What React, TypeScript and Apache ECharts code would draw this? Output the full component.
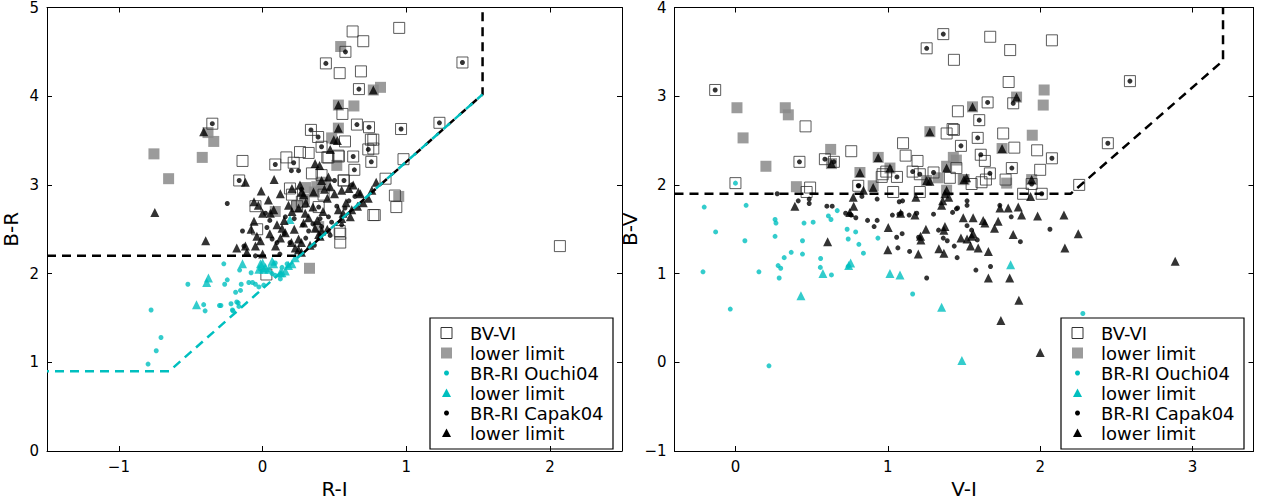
import React, { useEffect, useRef } from "react";
import * as echarts from "echarts";

type P = [number, number];

// ---------- Left panel (R-I vs B-R) ----------
const L_BVVI: P[] = [
  [0.44, 4.37], [0.536, 4.26], [-0.35, 3.69], [-0.14, 3.27], [-0.163, 3.05], [0.088, 3.23], [0.165, 3.31],
  [0.26, 3.37], [0.32, 3.36], [0.216, 3.25], [0.336, 3.62], [0.386, 3.54], [0.41, 3.43], [0.45, 3.31],
  [0.626, 4.73], [0.7, 4.62], [0.95, 4.77], [0.576, 4.5], [1.39, 4.38], [0.684, 4.28], [0.67, 4.08],
  [0.555, 3.8], [0.656, 3.68], [0.74, 3.65], [0.963, 3.63], [1.23, 3.7], [0.753, 3.51], [0.573, 3.49],
  [0.735, 3.4], [0.77, 3.41], [0.458, 3.31], [0.53, 3.32], [0.63, 3.32], [0.756, 3.26], [0.98, 3.29],
  [0.638, 3.17], [0.566, 3.05], [0.855, 3.07], [0.92, 2.88], [0.93, 2.75], [0.77, 2.66], [0.39, 2.75],
  [0.536, 2.48], [2.068, 2.31], [0.54, 2.45], [0.54, 2.35], [0.026, 1.99], [0.343, 3.13], [0.41, 3.11],
  [0.19, 2.96], [-0.05, 2.76], [0.204, 2.89], [0.24, 2.76], [-0.038, 2.5], [0.78, 2.66], [0.562, 3.05],
  [0.424, 2.89], [0.273, 2.81], [0.527, 3.33], [0.77, 3.51],
];
const L_BVVI_LIM: P[] = [
  [0.543, 4.56], [-0.38, 3.59], [-0.34, 3.49], [-0.756, 3.35], [-0.42, 3.31], [-0.654, 3.07], [0.527, 3.9],
  [0.527, 3.64], [0.516, 3.22], [0.77, 4.07], [0.82, 4.1], [0.635, 3.89], [0.947, 2.87], [0.326, 2.06],
  [0.48, 3.53], [0.41, 3.03], [0.377, 2.98], [0.435, 3.0], [0.39, 2.53], [0.24, 2.76], [0.088, 2.7],
  [0.3, 2.97], [0.36, 2.92], [0.29, 2.84],
];
const L_OUCHI: P[] = [
  [-0.27, 2.11], [-0.52, 1.88], [-0.246, 1.93], [-0.264, 1.88], [-0.776, 1.59], [-0.41, 1.65], [-0.4, 1.58],
  [-0.3, 1.64], [-0.22, 1.66], [-0.206, 1.58], [-0.17, 1.67], [-0.188, 1.79], [-0.154, 1.81], [-0.149, 1.88],
  [-0.16, 2.04], [-0.707, 1.28], [-0.74, 1.13], [-0.797, 0.98], [-0.096, 1.9], [-0.05, 1.88], [-0.026, 1.85],
  [-0.08, 2.01], [-0.015, 2.05], [-0.21, 1.59], [-0.18, 1.68], [-0.165, 1.63], [-0.29, 1.64], [0.008, 1.87],
  [-0.07, 1.9], [0.088, 2.12], [0.135, 2.07], [0.17, 2.11], [0.088, 1.98], [0.123, 1.94], [0.066, 2.0],
];
const L_OUCHI_LIM: P[] = [
  [-0.14, 2.11], [-0.377, 1.95], [-0.389, 1.9], [-0.46, 1.65], [-0.015, 2.11], [0.008, 2.05], [-0.026, 2.05],
  [0.066, 2.14], [0.043, 2.05], [0.18, 2.09], [0.227, 2.18], [0.123, 2.01], [0.0, 2.12], [0.02, 2.07],
  [0.077, 2.11], [0.135, 2.01], [0.158, 2.03], [0.204, 2.11], [0.19, 2.61],
];
const L_CAPAK: P[] = [
  [0.44, 4.37], [-0.35, 3.69], [-0.163, 3.05], [0.088, 3.23], [0.216, 3.25], [0.336, 3.62], [0.386, 3.54],
  [0.41, 3.43], [0.576, 4.5], [1.39, 4.38], [0.67, 4.08], [0.656, 3.68], [0.74, 3.65], [0.963, 3.63],
  [1.23, 3.7], [0.735, 3.4], [0.63, 3.32], [0.756, 3.26], [0.638, 3.17], [0.566, 3.05], [0.39, 2.75],
  [-0.246, 2.79], [-0.14, 2.48], [0.2, 3.16], [0.25, 3.16], [-0.13, 2.31], [0.02, 2.68], [0.066, 2.39],
  [0.1, 2.35], [0.19, 2.35], [0.32, 2.48], [0.458, 2.64], [0.516, 2.76], [0.41, 2.53], [0.158, 2.64],
  [0.573, 2.74], [0.642, 2.87], [0.62, 3.0], [0.5, 3.05], [0.27, 2.95], [0.35, 2.56], [0.03, 2.52],
  [0.12, 2.22], [0.36, 2.32], [0.47, 2.43], [0.05, 2.6], [0.15, 2.45], [0.28, 2.55], [0.4, 2.62],
  [0.48, 2.58], [0.55, 2.55], [0.3, 2.4], [-0.05, 2.2], [0.22, 2.62], [0.6, 2.82],
];
const L_CAPAK_LIM: P[] = [
  [-0.41, 3.6], [-0.12, 3.03], [-0.75, 2.69], [0.08, 3.06], [-0.01, 2.93], [0.527, 3.9], [0.527, 3.64],
  [0.495, 3.51], [0.52, 3.5], [0.47, 3.4], [0.77, 4.07], [0.365, 3.24], [0.396, 3.22], [0.123, 2.9],
  [0.26, 3.0], [0.27, 2.92], [0.285, 2.89], [0.354, 2.92], [0.41, 3.05], [0.458, 3.09], [0.47, 2.98],
  [0.204, 2.96], [-0.06, 2.81], [-0.03, 2.77], [0.04, 2.83], [0.077, 2.72], [0.054, 2.68], [-0.06, 2.59],
  [0.0, 2.68], [0.18, 2.77], [0.204, 2.7], [0.25, 2.74], [0.296, 2.68], [0.32, 2.63], [0.285, 2.57],
  [0.135, 2.51], [0.158, 2.46], [0.124, 2.4], [0.25, 2.39], [0.27, 2.35], [0.227, 2.29], [0.365, 2.51],
  [0.41, 2.48], [0.39, 2.44], [0.527, 2.72], [0.56, 2.68], [0.61, 2.64], [0.55, 2.94], [0.6, 2.96],
  [0.63, 3.0], [0.666, 2.92], [0.76, 2.94], [0.79, 3.03], [0.735, 2.85], [-0.04, 2.42], [-0.015, 2.37],
  [-0.05, 2.31], [-0.18, 2.29], [-0.11, 2.24], [0.0, 2.22], [0.09, 2.31], [0.25, 2.27], [0.27, 2.24],
  [-0.396, 2.37], [-0.12, 2.31], [0.7, 2.8], [0.66, 2.76], [0.45, 2.5], [0.4, 2.42], [0.33, 2.32],
  [0.55, 2.62], [0.62, 2.72], [0.15, 2.6], [0.1, 2.55], [0.22, 2.5], [0.3, 2.8], [0.35, 2.75],
  [0.42, 2.7], [0.45, 2.85], [0.5, 2.9], [0.38, 2.6], [0.2, 2.35], [0.05, 2.45], [-0.08, 2.5],
  [0.58, 2.8], [0.68, 2.9], [0.43, 2.95],
];
const L_CUT_BLACK: P[] = [[-1.5, 2.2], [0.26, 2.2], [1.53, 4.02], [1.53, 5]];
const L_CUT_CYAN: P[] = [[-1.5, 0.9], [-0.65, 0.9], [1.53, 4.02]];

// ---------- Right panel (V-I vs B-V) ----------
const R_BVVI: P[] = [
  [-0.133, 3.07], [0.0, 2.02], [0.46, 2.66], [0.467, 1.92], [0.49, 1.97], [0.42, 2.26], [0.587, 2.29],
  [0.646, 2.26], [0.76, 2.38], [1.364, 3.7], [1.255, 3.54], [1.434, 3.41], [1.46, 2.83], [1.386, 2.58],
  [1.425, 2.63], [1.48, 2.44], [1.1, 2.47], [1.117, 2.33], [1.195, 2.27], [1.06, 2.09], [0.806, 1.99],
  [0.96, 2.09], [1.21, 2.12], [1.163, 2.15], [1.3, 2.14], [1.035, 1.92], [1.21, 1.92], [1.672, 3.67],
  [2.077, 3.63], [1.803, 3.52], [1.793, 3.16], [1.757, 2.58], [1.83, 2.42], [1.98, 2.39], [2.0, 2.17],
  [1.773, 2.06], [1.637, 2.27], [2.256, 2.0], [1.888, 1.9], [2.589, 3.17], [2.444, 2.47], [2.077, 2.3],
  [1.655, 2.93], [1.823, 2.92], [1.6, 2.73], [1.59, 2.53], [1.61, 2.34], [1.67, 2.13], [1.814, 2.19],
  [2.01, 1.9], [1.944, 2.01], [1.434, 2.62], [0.966, 2.12], [0.99, 2.15], [1.45, 2.19], [1.644, 2.06],
  [1.407, 2.08], [1.55, 2.01], [1.615, 2.03],
];
const R_BVVI_LIM: P[] = [
  [0.01, 2.87], [0.327, 2.87], [0.347, 2.79], [0.05, 2.53], [0.2, 2.21], [0.4, 1.98], [0.625, 2.4],
  [1.276, 2.6], [0.937, 2.31], [0.817, 2.14], [1.014, 2.19], [1.43, 2.31], [1.386, 1.94], [2.026, 3.07],
  [2.02, 2.9], [1.948, 2.56], [1.78, 2.02], [1.845, 2.99], [1.556, 2.88], [1.75, 2.41], [1.944, 2.06],
  [1.5, 2.06], [0.63, 2.24], [0.904, 1.99], [1.386, 2.21], [1.255, 2.05], [1.495, 2.06], [1.33, 2.08],
  [1.45, 2.28],
];
const R_OUCHI: P[] = [
  [-0.205, 1.75], [0.07, 1.77], [-0.13, 1.47], [0.062, 1.37], [0.26, 1.61], [0.266, 1.57], [0.26, 1.42],
  [0.45, 1.57], [0.51, 1.58], [0.61, 1.65], [0.627, 1.61], [0.668, 1.71], [0.733, 1.5], [0.789, 1.47],
  [0.44, 1.37], [0.44, 1.22], [0.366, 1.24], [0.32, 1.18], [0.28, 1.09], [0.297, 1.06], [0.287, 0.95],
  [0.154, 1.02], [-0.213, 1.02], [-0.034, 0.6], [0.22, -0.04], [0.559, 1.17], [0.557, 1.07], [0.63, 0.985],
  [0.74, 1.39], [0.81, 1.33], [0.84, 1.23], [0.74, 1.08], [0.935, 1.4], [1.163, 0.77], [0.0, 2.02],
  [2.28, 0.55],
];
const R_OUCHI_LIM: P[] = [
  [0.574, 1.0], [0.756, 1.12], [0.743, 1.09], [0.43, 0.75], [1.014, 1.0], [1.08, 0.985], [1.353, 0.62],
  [1.486, 0.02], [1.806, 1.1],
];
const R_CAPAK: P[] = [
  [-0.133, 3.07], [0.42, 2.26], [0.587, 2.29], [0.646, 2.26], [1.364, 3.7], [1.255, 3.54], [1.48, 2.44],
  [1.06, 2.09], [0.806, 1.99], [1.21, 2.12], [1.163, 2.15], [1.3, 2.14], [2.589, 3.17], [2.444, 2.47],
  [2.077, 2.3], [1.655, 2.93], [1.823, 2.92], [1.6, 2.73], [1.59, 2.53], [1.61, 2.34], [1.67, 2.13],
  [1.814, 2.19], [2.01, 1.9], [1.944, 2.01], [0.274, 1.9], [0.412, 1.82], [0.484, 1.84], [0.484, 1.79],
  [0.6, 1.76], [0.635, 1.76], [0.723, 1.68], [0.75, 1.67], [0.76, 1.66], [0.79, 1.63], [0.867, 1.6],
  [0.93, 1.6], [0.91, 1.53], [0.81, 1.99], [0.83, 1.87], [0.93, 1.84], [1.03, 1.66], [1.073, 1.67],
  [1.088, 1.68], [1.058, 1.41], [1.094, 1.45], [1.066, 1.29], [1.143, 1.25], [1.14, 1.66], [1.19, 1.68],
  [1.255, 0.95], [1.202, 1.41], [1.3, 1.67], [1.333, 1.49], [1.364, 1.4], [1.39, 1.37], [1.436, 1.31],
  [1.455, 1.18], [1.425, 1.69], [1.458, 1.74], [1.52, 1.54], [1.52, 1.82], [1.52, 1.77], [1.45, 1.73],
  [1.55, 1.49], [1.578, 1.04], [1.674, 1.08], [1.81, 1.64], [1.87, 1.36], [2.064, 1.5], [1.587, 1.38],
  [1.735, 1.77], [1.075, 1.81], [1.097, 1.82],
];
const R_CAPAK_LIM: P[] = [
  [0.63, 2.24], [1.276, 2.6], [0.937, 2.31], [0.817, 2.14], [1.014, 2.19], [0.84, 1.94], [0.904, 1.97],
  [1.255, 2.05], [1.276, 2.04], [1.386, 2.19], [1.5, 2.06], [1.386, 1.94], [1.845, 2.99], [1.556, 2.88],
  [1.75, 2.41], [1.944, 2.06], [1.937, 1.87], [1.517, 2.08], [0.39, 1.76], [0.776, 1.76], [0.773, 1.86],
  [0.605, 1.36], [1.003, 1.52], [1.0, 1.27], [1.084, 1.68], [1.178, 1.66], [1.184, 1.86], [1.25, 1.5],
  [1.2, 1.22], [1.215, 1.42], [1.217, 1.38], [1.335, 1.28], [1.368, 1.23], [1.375, 1.53], [1.368, 1.49],
  [1.48, 1.4], [1.52, 1.39], [1.495, 1.63], [1.56, 1.63], [1.36, 1.82], [1.375, 1.9], [1.353, 1.77],
  [1.4, 1.86], [1.736, 1.74], [1.79, 1.74], [1.856, 1.75], [1.626, 1.6], [1.637, 1.57], [1.724, 1.59],
  [1.7, 1.51], [1.878, 1.66], [1.983, 1.65], [2.156, 1.66], [2.25, 1.45], [1.543, 1.31], [1.593, 1.29],
  [1.66, 1.25], [1.823, 1.44], [2.162, 1.29], [1.66, 0.95], [1.8, 0.95], [1.86, 0.7], [1.742, 0.47],
  [2.0, 0.11], [2.886, 1.14], [1.55, 1.42], [1.56, 1.45], [0.75, 1.69],
];
const R_CUT: P[] = [[-0.4, 1.9], [2.2, 1.9], [3.2, 3.4], [3.2, 4]];

const LEGEND_LABELS = ["BV-VI", "lower limit", "BR-RI Ouchi04", "lower limit", "BR-RI Capak04", "lower limit"];
const L_XTICKS = [-1, 0, 1, 2];
const R_XTICKS = [0, 1, 2, 3];

const CYAN = "#00BFBF";
const FONT = "DejaVu Sans";
const minus = (v: number) => String(v).replace("-", "\u2212");

function scatterSet(gi: number, d: P[][]) {
  const xi = gi * 2;
  const yi = gi * 2;
  const base = { type: "scatter", xAxisIndex: xi, yAxisIndex: yi, silent: true };
  return [
    { ...base, name: "BV-VI", data: d[0], symbol: "rect", symbolSize: 11, z: 3,
      itemStyle: { color: "rgba(0,0,0,0)", borderColor: "#333", borderWidth: 1 } },
    { ...base, name: "lower limit a", data: d[1], symbol: "rect", symbolSize: 11, z: 2,
      itemStyle: { color: "#8a8a8a", opacity: 0.85 } },
    { ...base, name: "Ouchi", data: d[2], symbol: "circle", symbolSize: 5, z: 4, itemStyle: { color: CYAN } },
    { ...base, name: "Ouchi lim", data: d[3], symbol: "triangle", symbolSize: 9, z: 4, itemStyle: { color: CYAN } },
    { ...base, name: "Capak", data: d[4], symbol: "circle", symbolSize: 5, z: 5, itemStyle: { color: "#000" } },
    { ...base, name: "Capak lim", data: d[5], symbol: "triangle", symbolSize: 9, z: 5, itemStyle: { color: "#000" } },
  ];
}

function cutLine(gi: number, data: P[], color: string, offset = 0) {
  return {
    type: "line", xAxisIndex: gi * 2, yAxisIndex: gi * 2, data, showSymbol: false, symbol: "none",
    silent: true, z: 6,
    lineStyle: { color, width: 2.5, type: [9, 6], dashOffset: offset },
  };
}

function axesFor(gi: number, xmin: number, xmax: number, ymin: number, ymax: number, xticks: number[], xname: string, yname: string) {
  const tick = { inside: true, length: 5, lineStyle: { color: "#000", width: 1 } };
  const line = { show: true, onZero: false, lineStyle: { color: "#000", width: 1 } };
  const lbl = { color: "#000", fontSize: 15, fontFamily: FONT };
  const xa = [
    { gridIndex: gi, type: "value", min: xmin, max: xmax, position: "bottom", axisLine: line,
      axisTick: { ...tick, customValues: xticks }, splitLine: { show: false },
      axisLabel: { ...lbl, customValues: xticks, margin: 8, formatter: minus },
      name: xname, nameLocation: "middle", nameGap: 28,
      nameTextStyle: { color: "#000", fontSize: 20, fontFamily: FONT } },
    { gridIndex: gi, type: "value", min: xmin, max: xmax, position: "top", axisLine: line,
      axisTick: { ...tick, customValues: xticks }, splitLine: { show: false }, axisLabel: { show: false } },
  ];
  const ya = [
    { gridIndex: gi, type: "value", min: ymin, max: ymax, interval: 1, position: "left", axisLine: line,
      axisTick: tick, splitLine: { show: false }, axisLabel: { ...lbl, margin: 8, formatter: minus },
      name: yname, nameLocation: "middle", nameGap: 26, nameRotate: 90,
      nameTextStyle: { color: "#000", fontSize: 20, fontFamily: FONT } },
    { gridIndex: gi, type: "value", min: ymin, max: ymax, interval: 1, position: "right", axisLine: line,
      axisTick: tick, splitLine: { show: false }, axisLabel: { show: false } },
  ];
  return { xa, ya };
}

function legendGraphic(x: number, y: number) {
  const mx = x + 16.5;
  const tx = x + 40;
  const rows = [15, 35, 55, 75, 95, 115];
  const children: any[] = [
    { type: "rect", shape: { x, y, width: 183, height: 131 }, style: { fill: "#fff", stroke: "#000", lineWidth: 1.2 } },
    { type: "rect", shape: { x: mx - 5.5, y: y + rows[0] - 5.5, width: 11, height: 11 }, style: { fill: "none", stroke: "#333", lineWidth: 1 } },
    { type: "rect", shape: { x: mx - 5.5, y: y + rows[1] - 5.5, width: 11, height: 11 }, style: { fill: "#8a8a8a", opacity: 0.85 } },
    { type: "circle", shape: { cx: mx, cy: y + rows[2], r: 2.5 }, style: { fill: CYAN } },
    { type: "polygon", shape: { points: [[mx, y + rows[3] - 4.5], [mx - 4.5, y + rows[3] + 4], [mx + 4.5, y + rows[3] + 4]] }, style: { fill: CYAN } },
    { type: "circle", shape: { cx: mx, cy: y + rows[4], r: 2.5 }, style: { fill: "#000" } },
    { type: "polygon", shape: { points: [[mx, y + rows[5] - 4.5], [mx - 4.5, y + rows[5] + 4], [mx + 4.5, y + rows[5] + 4]] }, style: { fill: "#000" } },
  ];
  LEGEND_LABELS.forEach((t, i) => {
    children.push({
      type: "text", x: tx, y: y + rows[i],
      style: { text: t, fill: "#000", font: `18px "${FONT}"`, textVerticalAlign: "middle", verticalAlign: "middle" },
    });
  });
  return { type: "group", z: 100, children };
}

export default function App() {
  const ref = useRef<HTMLDivElement>(null);
  useEffect(() => {
    if (!ref.current) return;
    const chart = echarts.init(ref.current, undefined, { renderer: "svg" });
    const a0 = axesFor(0, -1.5, 2.5, 0, 5, L_XTICKS, "R-I", "B-R");
    const a1 = axesFor(1, -0.4, 3.4, -1, 4, R_XTICKS, "V-I", "B-V");
    chart.setOption({
      animation: false,
      backgroundColor: "#fff",
      textStyle: { fontFamily: FONT },
      grid: [
        { left: 44, top: 7, width: 578, height: 451 },
        { left: 674.5, top: 7, width: 579, height: 451 },
      ],
      xAxis: [...a0.xa, ...a1.xa],
      yAxis: [...a0.ya, ...a1.ya],
      series: [
        ...scatterSet(0, [L_BVVI, L_BVVI_LIM, L_OUCHI, L_OUCHI_LIM, L_CAPAK, L_CAPAK_LIM]),
        ...scatterSet(1, [R_BVVI, R_BVVI_LIM, R_OUCHI, R_OUCHI_LIM, R_CAPAK, R_CAPAK_LIM]),
        cutLine(0, L_CUT_BLACK, "#000"),
        cutLine(0, L_CUT_CYAN, CYAN, 7),
        cutLine(1, R_CUT, "#000"),
      ],
      graphic: [legendGraphic(430, 318), legendGraphic(1061, 318)],
    });
    return () => chart.dispose();
  }, []);
  return <div ref={ref} style={{ position: "fixed", left: 0, top: 0, width: 1269, height: 504, background: "#fff" }} />;
}
